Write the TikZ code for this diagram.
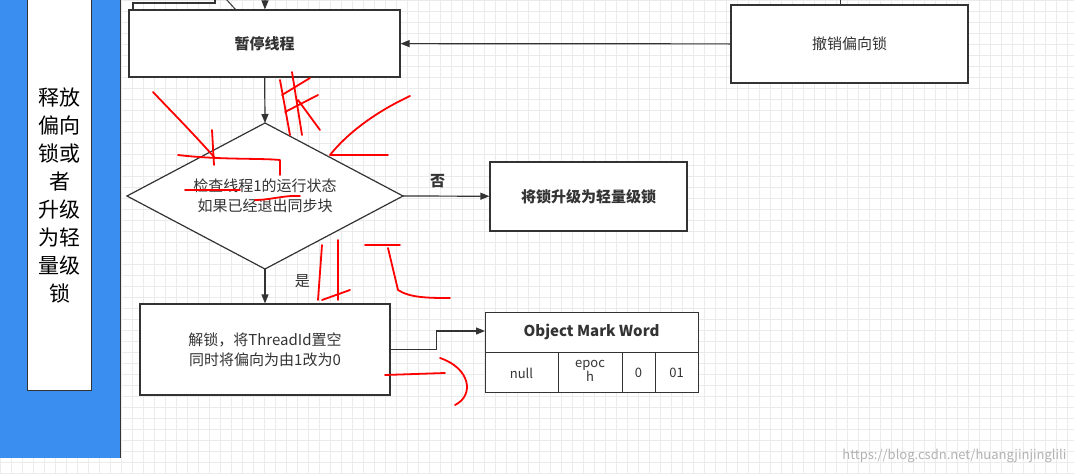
\documentclass[tikz,border=0pt]{standalone}
\usepackage{fontspec}
\setmainfont{Noto Sans CJK SC}
\usetikzlibrary{arrows.meta,positioning}
\definecolor{barblue}{HTML}{3A8EEF}
\definecolor{txt}{HTML}{333333}
\tikzset{
  box/.style={draw=txt,line width=1.2pt,fill=white,inner sep=0pt,text=txt,align=center,font=\fontsize{15}{20}\selectfont},
  bbox/.style={box,font=\fontsize{15}{20}\selectfont\bfseries},
  cell/.style={draw=txt,line width=1pt,fill=white,inner sep=0pt,outer sep=0pt,text=txt,align=center,font=\fontsize{13}{14}\selectfont},
  flow/.style={-{Triangle[length=9pt,width=7pt]},draw=txt,line width=1.2pt},
  lbl/.style={text=txt,font=\fontsize{15}{16}\selectfont},
  scribble/.style={red,line width=1.8pt,line cap=round,line join=round}
}
\begin{document}
\begin{tikzpicture}[x=1pt,y=-1pt]
\useasboundingbox (0,0) rectangle (1074,474);
% grid background
\fill[white] (0,0) rectangle (1074,474);
\foreach \i in {0,11,...,1074} \draw[black!8,line width=0.5pt] (\i,0) -- (\i,474);
\foreach \j in {0,11,...,474} \draw[black!8,line width=0.5pt] (0,\j) -- (1074,\j);
% left bar
\fill[barblue] (0,0) rectangle (120,458);
\draw[txt,line width=1pt] (120,0) -- (120,458);
\node[box,minimum width=64pt,minimum height=392pt,anchor=north west,text=black,font=\fontsize{21}{28}\selectfont] (side) at (27,-2)
  {\\[-8pt]释放\\偏向\\锁或\\者\\升级\\为轻\\量级\\锁};
% top partial shapes
\draw[txt,line width=1.2pt] (133,10) -- (133,3) -- (215,3) -- (215,-2);
\draw[txt,line width=1pt] (225,-2) -- (236,10);
\coordinate (topin) at (265,-2);
\coordinate (topr) at (840,-2);
\draw[txt,line width=1pt] (topr) -- (840,5);
% nodes
\node[bbox,minimum width=271pt,minimum height=67pt] (pause) at (264.5,43.5) {暂停线程};
\node[box,minimum width=237pt,minimum height=78pt] (revoke) at (849.5,44) {撤销偏向锁};
\draw[txt,line width=1.2pt,fill=white] (265,123) coordinate (dtop) -- (403,196) coordinate (dright) -- (265,269) coordinate (dbot) -- (127,196) -- cycle;
\node[text=txt,align=center,font=\fontsize{15}{20}\selectfont] (check) at (265,196) {检查线程1的运行状态\\如果已经退出同步块};
\node[bbox,minimum width=197pt,minimum height=69pt] (upgrade) at (588.5,196.5) {将锁升级为轻量级锁};
\node[box,minimum width=250pt,minimum height=91pt] (unlock) at (265,349.5) {解锁，将ThreadId置空\\同时将偏向为由1改为0};
% table
\draw[cell] (485,312) rectangle (698,392);
\draw[cell] (485,352) -- (698,352) (558,352) -- (558,392) (622,352) -- (622,392) (655,352) -- (655,392);
\node[font=\fontsize{15}{16}\selectfont\bfseries,text=txt] (head) at (591.5,332) {Object Mark Word};
\coordinate (headw) at (485,331);
\node[cell,draw=none,fill=none] (c1) at (521.5,373) {null};
\node[cell,draw=none,fill=none] (c2) at (590,371) {epoc\\h};
\node[cell,draw=none,fill=none] (c3) at (638.5,373) {0};
\node[cell,draw=none,fill=none] (c4) at (676.5,373) {01};
% connectors
\draw[flow] (topin) -- (pause);
\draw[flow] (revoke) -- (pause);
\draw[flow] (pause) -- (dtop);
\draw[flow] (dright) -- node[lbl,font=\fontsize{15}{16}\selectfont\bfseries,above=4pt,pos=0.4] {否} (upgrade);
\draw[flow] (dbot) -- node[lbl,right=26pt,pos=0.35] {是} (unlock);
\draw[flow] (unlock.east) -- ++(46,0) |- (headw);
% red annotations
\draw[scribble] (153,92) .. controls (170,110) and (190,130) .. (215,158);
\draw[scribble] (178,155) .. controls (220,160) and (260,158) .. (280,160) -- (280,175);
\draw[scribble] (212,130) -- (214,165);
\draw[scribble] (280,80) -- (290,135) (282,95) -- (310,78) (285,112) -- (318,95) (292,72) -- (302,135) (298,100) -- (320,130);
\draw[scribble] (410,96) .. controls (380,110) and (350,130) .. (330,155) -- (388,155);
\draw[scribble] (185,190) -- (240,190) (255,200) .. controls (270,200) and (285,195) .. (300,196);
\draw[scribble] (322,245) -- (318,300) (338,240) -- (338,300) (322,300) -- (350,290);
\draw[scribble] (365,245) -- (400,245) (388,248) -- (398,290) .. controls (410,298) and (430,298) .. (450,298);
\draw[scribble] (385,375) -- (445,373) (440,358) .. controls (470,368) and (475,395) .. (455,405);
% watermark
\node[text=black!30,font=\fontsize{13}{14}\selectfont,anchor=east] (wm) at (1070,456) {https://blog.csdn.net/huangjinjinglili};
\end{tikzpicture}
\end{document}
